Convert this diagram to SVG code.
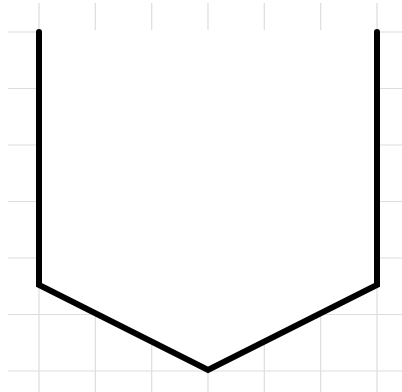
<svg xmlns="http://www.w3.org/2000/svg" width="402" height="392" viewBox="0 0 402 392">
<style>
.grid line{stroke:#dddddd;stroke-width:1.2}
.fill{fill:#fff;stroke:none}
.shape{fill:none;stroke:#000;stroke-width:6;stroke-linecap:round;stroke-linejoin:miter}
</style>
<rect width="402" height="392" fill="#fff"/>
<g id="grid" class="grid">
<line x1="39" y1="3" x2="39" y2="392"/>
<line x1="95.3" y1="3" x2="95.3" y2="392"/>
<line x1="151.7" y1="3" x2="151.7" y2="392"/>
<line x1="208" y1="3" x2="208" y2="392"/>
<line x1="264.3" y1="3" x2="264.3" y2="392"/>
<line x1="320.7" y1="3" x2="320.7" y2="392"/>
<line x1="377" y1="3" x2="377" y2="392"/>
<line x1="8" y1="32" x2="402" y2="32"/>
<line x1="8" y1="88.5" x2="402" y2="88.5"/>
<line x1="8" y1="145" x2="402" y2="145"/>
<line x1="8" y1="201.5" x2="402" y2="201.5"/>
<line x1="8" y1="258" x2="402" y2="258"/>
<line x1="8" y1="314.5" x2="402" y2="314.5"/>
<line x1="8" y1="371" x2="402" y2="371"/>
</g>
<g id="shape">
<polygon class="fill" points="39,30 39,285 208,370 377,285 377,30"/>
<polyline class="shape" points="39,32 39,285 208,370 377,285 377,32"/>
</g>
</svg>
